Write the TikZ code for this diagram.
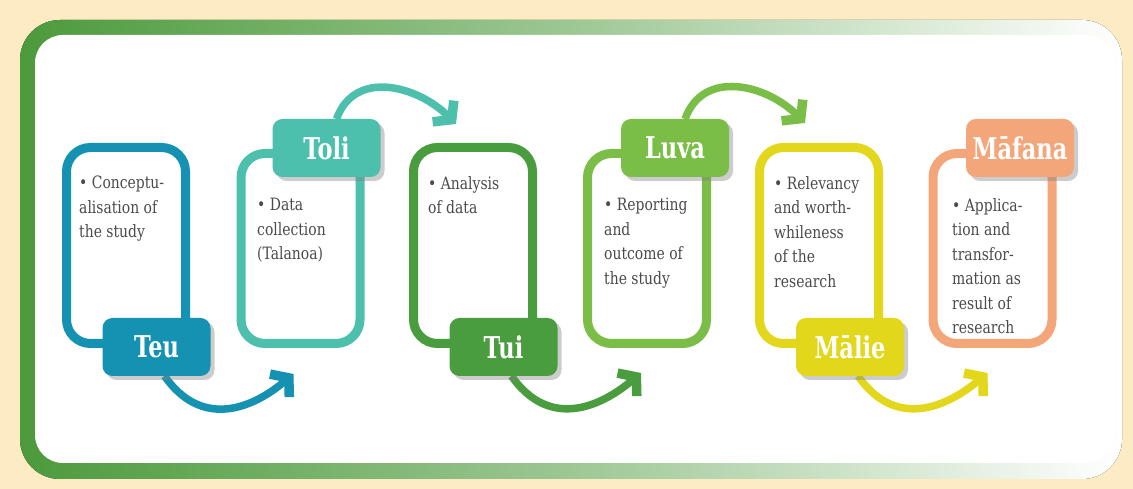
\documentclass[tikz,border=0pt]{standalone}
\usepackage{fontspec}
\setmainfont{DejaVu Serif}
\newfontfamily\tagfont{DejaVu Serif}[FakeStretch=0.75]
\newfontfamily\bodyfont{DejaVu Serif}[FakeStretch=0.82]
\usetikzlibrary{arrows.meta,shadows}

\definecolor{cream}{HTML}{FDEBC4}
\definecolor{framegreen}{HTML}{4C9A3C}
\definecolor{teuc}{HTML}{1591B1}
\definecolor{tolic}{HTML}{4DBFAD}
\definecolor{tuic}{HTML}{4A9D3F}
\definecolor{luvac}{HTML}{7BBE47}
\definecolor{maliec}{HTML}{E2D71B}
\definecolor{mafanac}{HTML}{F3A679}
\definecolor{bodytext}{HTML}{4A4A4A}

\begin{document}
\begin{tikzpicture}[x=1pt, y=1pt,
    stepbox/.style = {draw=#1, line width=9pt, rounded corners=24pt, fill=white, inner sep=0pt,
        minimum width=119pt, drop shadow={shadow xshift=3pt, shadow yshift=-3pt, opacity=.15}},
    lowbox/.style = {minimum height=196pt},
    highbox/.style = {minimum height=190pt},
    steptag/.style = {fill=#1, rounded corners=10pt, minimum width=108pt, minimum height=58pt,
        text=white, font=\tagfont\bfseries\fontsize{30}{30}\selectfont,
        drop shadow={shadow xshift=4pt, shadow yshift=-4pt, opacity=.4}},
    bodytxt/.style = {anchor=north west, inner sep=0pt, align=left, text=bodytext,
        font=\bodyfont\fontsize{17}{24.5}\selectfont},
    flow/.style = {draw=#1, line width=7.5pt,
        -{Straight Barb[length=12pt, width=30pt, line width=2pt 1]}}]
    \useasboundingbox (0,0) rectangle (1133,489);
    \fill[cream] (0,0) rectangle (1133,489);
    \fill[left color=framegreen, right color=white, middle color=framegreen!55!white,
        rounded corners=40pt] (20,10) rectangle (1122,469);
    \fill[white, rounded corners=28pt] (35,26) rectangle (1114,454);

    \node[stepbox=teuc, lowbox] (teu) at (126,243.5) {};
    \node[stepbox=tolic, highbox] (toli) at (300.5,240.5) {};
    \node[stepbox=tuic, lowbox] (tui) at (473,243.5) {};
    \node[stepbox=luvac, highbox] (luva) at (647,240.5) {};
    \node[stepbox=maliec, lowbox] (malie) at (819,243.5) {};
    \node[stepbox=mafanac, highbox] (mafana) at (992.5,240.5) {};

    \coordinate (teutagpos) at (156.5,142);
    \coordinate (tolitagpos) at (326.5,341);
    \coordinate (tuitagpos) at (503.5,142);
    \coordinate (luvatagpos) at (675,341);
    \coordinate (malietagpos) at (850,142);
    \coordinate (mafanatagpos) at (1020,341);

    \path (teutagpos) ++(8,-29) coordinate (teuout);
    \path (tolitagpos) ++(10,29) coordinate (toliout);
    \path (tuitagpos) ++(8,-29) coordinate (tuiout);
    \path (luvatagpos) ++(10,29) coordinate (luvaout);
    \path (malietagpos) ++(8,-29) coordinate (malieout);

    \draw[flow=teuc] (teuout) to[out=-55, in=-140, looseness=1.2] ([xshift=-7pt, yshift=-26pt]toli.south);
    \draw[flow=tolic] (toliout) to[out=70, in=135, looseness=1.15] ([xshift=-17pt, yshift=19pt]tui.north);
    \draw[flow=tuic] (tuiout) to[out=-55, in=-140, looseness=1.2] ([xshift=-6pt, yshift=-25pt]luva.south);
    \draw[flow=luvac] (luvaout) to[out=70, in=135, looseness=1.15] ([xshift=-14pt, yshift=20pt]malie.north);
    \draw[flow=maliec] (malieout) to[out=-55, in=-140, looseness=1.2] ([xshift=-5pt, yshift=-25pt]mafana.south);

    \node[steptag=teuc] (teutag) at (teutagpos) {Teu};
    \node[steptag=tolic] (tolitag) at (tolitagpos) {Toli};
    \node[steptag=tuic] (tuitag) at (tuitagpos) {Tui};
    \node[steptag=luvac] (luvatag) at (luvatagpos) {Luva};
    \node[steptag=maliec] (malietag) at (malietagpos) {Mālie};
    \node[steptag=mafanac] (mafanatag) at (mafanatagpos) {Māfana};

    \node[bodytxt] (teutxt) at (79,313) {• Conceptu-\\alisation of\\the study};
    \node[bodytxt] (tolitxt) at (257,291) {• Data\\collection\\(Talanoa)};
    \node[bodytxt] (tuitxt) at (428,313) {• Analysis\\of data};
    \node[bodytxt] (luvatxt) at (604,291) {• Reporting\\and\\outcome of\\the study};
    \node[bodytxt] (malietxt) at (774,313) {• Relevancy\\and worth-\\whileness\\of the\\research};
    \node[bodytxt] (mafanatxt) at (952,291) {• Applica-\\tion and\\transfor-\\mation as\\result of\\research};
\end{tikzpicture}
\end{document}
